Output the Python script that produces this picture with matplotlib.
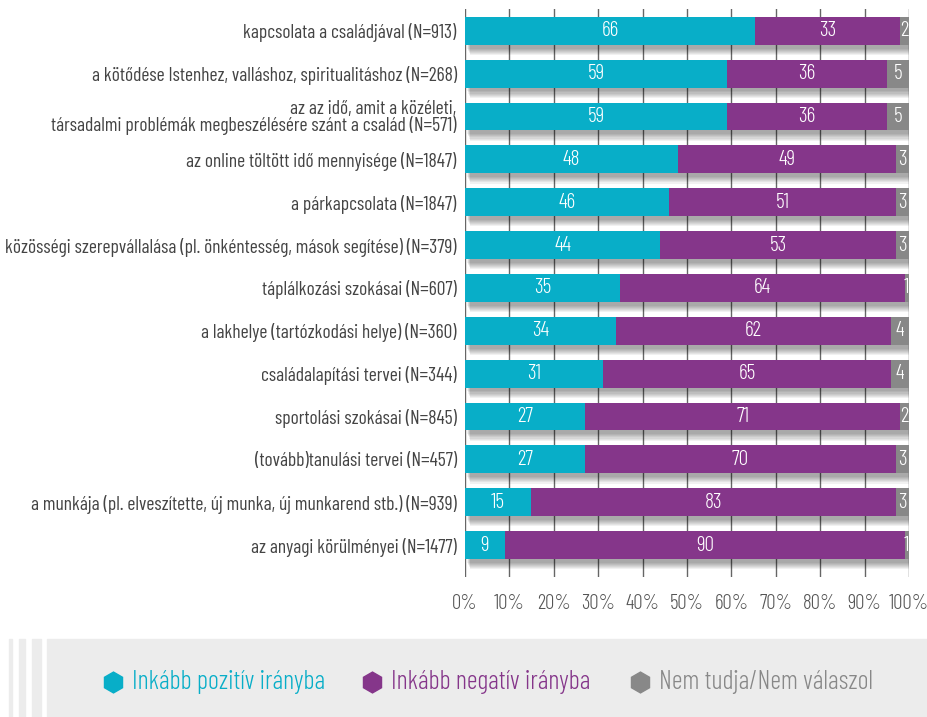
import numpy as np
import matplotlib.pyplot as plt
from matplotlib.patches import Rectangle

# Categories and values (top to bottom as in the chart)
labels = [
    'kapcsolata a családjával (N=913)',
    'a kötődése Istenhez, valláshoz, spiritualitáshoz (N=268)',
    'az az idő, amit a közéleti,\ntársadalmi problémák megbeszélésére szánt a család (N=571)',
    'az online töltött idő mennyisége (N=1847)',
    'a párkapcsolata (N=1847)',
    'közösségi szerepvállalása (pl. önkéntesség, mások segítése) (N=379)',
    'táplálkozási szokásai (N=607)',
    'a lakhelye (tartózkodási helye) (N=360)',
    'családalapítási tervei (N=344)',
    'sportolási szokásai (N=845)',
    '(tovább)tanulási tervei (N=457)',
    'a munkája (pl. elveszítette, új munka, új munkarend stb.) (N=939)',
    'az anyagi körülményei (N=1477)',
]
positive = [66, 59, 59, 48, 46, 44, 35, 34, 31, 27, 27, 15, 9]
negative = [33, 36, 36, 49, 51, 53, 64, 62, 65, 71, 70, 83, 90]
dont_know = [2, 5, 5, 3, 3, 3, 1, 4, 4, 2, 3, 3, 1]

series_names = ['Inkább pozitív irányba', 'Inkább negatív irányba', 'Nem tudja/Nem válaszol']
colors = ['#08aec8', '#85368a', '#888888']
xticks = [0, 10, 20, 30, 40, 50, 60, 70, 80, 90, 100]

plt.rcParams['font.family'] = ['Barlow Condensed', 'Roboto Condensed', 'DejaVu Sans']
plt.rcParams['font.weight'] = 300

fig = plt.figure(figsize=(9.27, 7.17), dpi=100)
ax = fig.add_axes([0.5016, 0.195, 0.479, 0.792])

vals = np.array([positive, negative, dont_know], dtype=float)
totals = vals.sum(axis=0)
shares = vals / totals * 100  # bars are scaled to a full 100%
y = np.arange(len(labels))
h = 0.65

# soft drop shadow behind each bar
for k in range(7):
    off = 0.04 + k * 0.025
    ax.barh(y + off + 0.05, 100, left=0.5 + k * 0.12, height=h, color='black',
            alpha=0.055, zorder=2, linewidth=0)

left = np.zeros(len(labels))
for i in range(3):
    bars = ax.barh(y, shares[i], left=left, height=h, color=colors[i], zorder=3, linewidth=0)
    for j, b in enumerate(bars):
        ax.text(left[j] + shares[i][j] / 2, y[j], f'{int(vals[i][j])}', ha='center', va='center',
                color='white', fontsize=15.5, zorder=4)
    left += shares[i]

ax.set_xlim(0, 100)
ax.set_ylim(len(labels) - 0.5 + 0.25, -0.5)
ax.set_xticks(xticks)
ax.set_xticklabels([f'{t}%' for t in xticks], fontsize=15, color='#555555')
ax.set_yticks(y)
ax.set_yticklabels(labels, fontsize=14, color='#444444', linespacing=0.9, fontweight=400)
ax.tick_params(axis='both', length=0, pad=6)
ax.tick_params(axis='x', pad=12)
ax.grid(axis='x', color='#666666', linewidth=1.0, zorder=1)
ax.set_axisbelow(True)
for s in ax.spines.values():
    s.set_visible(False)

# legend panel at the bottom
fig.patches.append(Rectangle((47 / 927, 0), 1 - 47 / 927, 78 / 717, transform=fig.transFigure,
                             color='#ececec', zorder=0))
for x0, x1 in [(9, 12), (19, 25), (32, 41)]:
    fig.patches.append(Rectangle((x0 / 927, 0), (x1 - x0) / 927, 78 / 717, transform=fig.transFigure,
                                 color='#ececec', zorder=0))
ly = 1 - 682 / 717
for name, c, mx in zip(series_names, colors, [113, 372, 640]):
    fig.lines.append(plt.Line2D([mx / 927], [ly], marker='h', markersize=15, color=c,
                                transform=fig.transFigure))
    fig.text((mx + 19) / 927, ly, name, color=c, fontsize=19, va='center', ha='left')

fig.savefig('out.png', dpi=100)
